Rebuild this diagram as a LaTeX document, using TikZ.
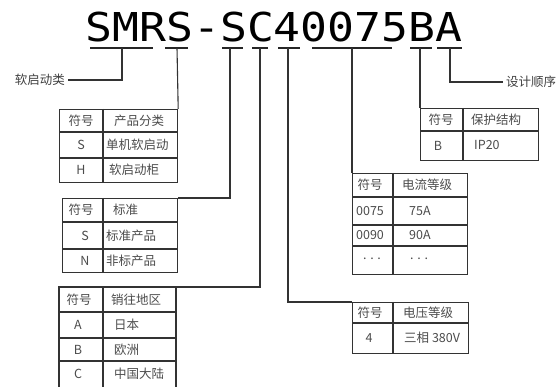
\documentclass[tikz,border=0pt]{standalone}
\usepackage{fontspec}
\setmainfont{Noto Sans CJK SC}
\newfontfamily\codefont{DejaVu Sans Mono}
\begin{document}
\begin{tikzpicture}[x=1pt,y=-1pt,
  conn/.style={draw=black!80,line width=1.1pt},
  uline/.style={draw=black!85,line width=1.4pt},
  tbl/.style={draw=black!80,line width=1.2pt,inner sep=0pt,anchor=north west},
  grid/.style={draw=black!80,line width=1.1pt},
  cell/.style={font=\fontsize{12.5}{14}\selectfont,text=black!70,inner sep=0pt},
  lab/.style={font=\fontsize{12.5}{14}\selectfont,text=black!75,inner sep=3pt}]
\useasboundingbox (0,0) rectangle (560,387);
\fill[white] (0,0) rectangle (560,387);

% title
\node[inner sep=0pt,anchor=base] (code) at (274,42)
  {\scalebox{1}[0.89]{\codefont\fontsize{44.7}{50}\selectfont SMRS-SC40075BA}};

% underlines
\draw[uline] (90,48) -- (153,48);
\draw[uline] (165,48) -- (188,48);
\draw[uline] (222,48) -- (243,48);
\draw[uline] (252,48) -- (268,48);
\draw[uline] (278,48) -- (300,48);
\draw[uline] (312,48) -- (392,48);
\draw[uline] (410,48) -- (432,48);
\draw[uline] (437,48) -- (462,48);
\coordinate (u1) at (122,48);
\coordinate (u2) at (177,48);
\coordinate (u3) at (230,48);
\coordinate (u4) at (260,48);
\coordinate (u5) at (288,48);
\coordinate (u6) at (352,48);
\coordinate (u7) at (420,48);
\coordinate (u8) at (450,48);

% side labels
\node[lab,anchor=east] (lab1) at (68,80) {软启动类};
\node[lab,anchor=west] (lab2) at (503,82) {设计顺序};

% table 1
\node[tbl,minimum width=118pt,minimum height=73pt] (t1) at (59,109) {};
\draw[grid] (103,109) -- (103,182);
\draw[grid] (59,132) -- (177,132);
\draw[grid] (59,158) -- (177,158);
\node[cell] (t1a) at (81,120.5) {符号};
\node[cell] (t1b) at (139,120.5) {产品分类};
\node[cell] (t1c) at (81,145) {S};
\node[cell,anchor=west] (t1d) at (106,145) {单机软启动};
\node[cell] (t1e) at (81,170) {H};
\node[cell,anchor=west] (t1f) at (109,170) {软启动柜};

% table 2
\node[tbl,minimum width=115pt,minimum height=74pt] (t2) at (62,198) {};
\draw[grid] (103,198) -- (103,272);
\draw[grid] (62,222) -- (177,222);
\draw[grid] (62,249) -- (177,249);
\node[cell] (t2a) at (81,210) {符号};
\node[cell,anchor=west] (t2b) at (113,210) {标准};
\node[cell] (t2c) at (85,235.5) {S};
\node[cell,anchor=west] (t2d) at (106,235.5) {标准产品};
\node[cell] (t2e) at (85,260.5) {N};
\node[cell,anchor=west] (t2f) at (106,260.5) {非标产品};

% table 3 (runs past the lower edge)
\coordinate (t3ne) at (176,287);
\draw[grid,line width=1.2pt] (59,387) -- (59,287) -- (t3ne) -- (176,387);
\draw[grid] (103,287) -- (103,387);
\draw[grid] (59,312) -- (176,312);
\draw[grid] (59,338) -- (176,338);
\draw[grid] (59,361) -- (176,361);
\node[cell] (t3a) at (79,299.5) {符号};
\node[cell,anchor=west] (t3b) at (111,299.5) {销往地区};
\node[cell] (t3c) at (78,325) {A};
\node[cell,anchor=west] (t3d) at (114,325) {日本};
\node[cell] (t3e) at (78,349.5) {B};
\node[cell,anchor=west] (t3f) at (114,349.5) {欧洲};
\node[cell] (t3g) at (78,374) {C};
\node[cell,anchor=west] (t3h) at (114,374) {中国大陆};

% table 4
\node[tbl,minimum width=115pt,minimum height=101pt] (t4) at (352,173) {};
\draw[grid] (393,173) -- (393,274);
\draw[grid] (352,197) -- (467,197);
\draw[grid] (352,225) -- (467,225);
\draw[grid] (352,246) -- (467,246);
\node[cell] (t4a) at (370,185) {符号};
\node[cell,anchor=west] (t4b) at (402,185) {电流等级};
\node[cell] (t4c) at (370,211) {0075};
\node[cell,anchor=west] (t4d) at (409,211) {75A};
\node[cell] (t4e) at (370,235.5) {0090};
\node[cell,anchor=west] (t4f) at (409,235.5) {90A};
\node[cell] (t4g) at (372,259) {. . .};
\node[cell,anchor=west] (t4h) at (410,259) {. . .};

% table 5
\node[tbl,minimum width=116pt,minimum height=51pt] (t5) at (352,302) {};
\draw[grid] (393,302) -- (393,353);
\draw[grid] (352,323) -- (468,323);
\node[cell] (t5a) at (370,312.5) {符号};
\node[cell,anchor=west] (t5b) at (403,312.5) {电压等级};
\node[cell] (t5c) at (369,338) {4};
\node[cell,anchor=west] (t5d) at (404,338) {三相 380V};

% table 6
\node[tbl,minimum width=118pt,minimum height=52pt] (t6) at (420,108) {};
\draw[grid] (463,108) -- (463,160);
\draw[grid] (420,131) -- (538,131);
\node[cell] (t6a) at (441,119.5) {符号};
\node[cell,anchor=west] (t6b) at (471,119.5) {保护结构};
\node[cell] (t6c) at (438,145.5) {B};
\node[cell,anchor=west] (t6d) at (474,145.5) {IP20};

% connectors
\draw[conn] (u1) |- (lab1.east);
\draw[conn] (u2) -- (t1.north east);
\draw[conn] (u3) |- (t2.north east);
\draw[conn] (u4) |- (t3ne);
\draw[conn] (u5) |- (t5.north west);
\draw[conn] (u6) -- (t4.north west);
\draw[conn] (u7) -- (t6.north west);
\draw[conn] (u8) |- (lab2.west);
\end{tikzpicture}
\end{document}
